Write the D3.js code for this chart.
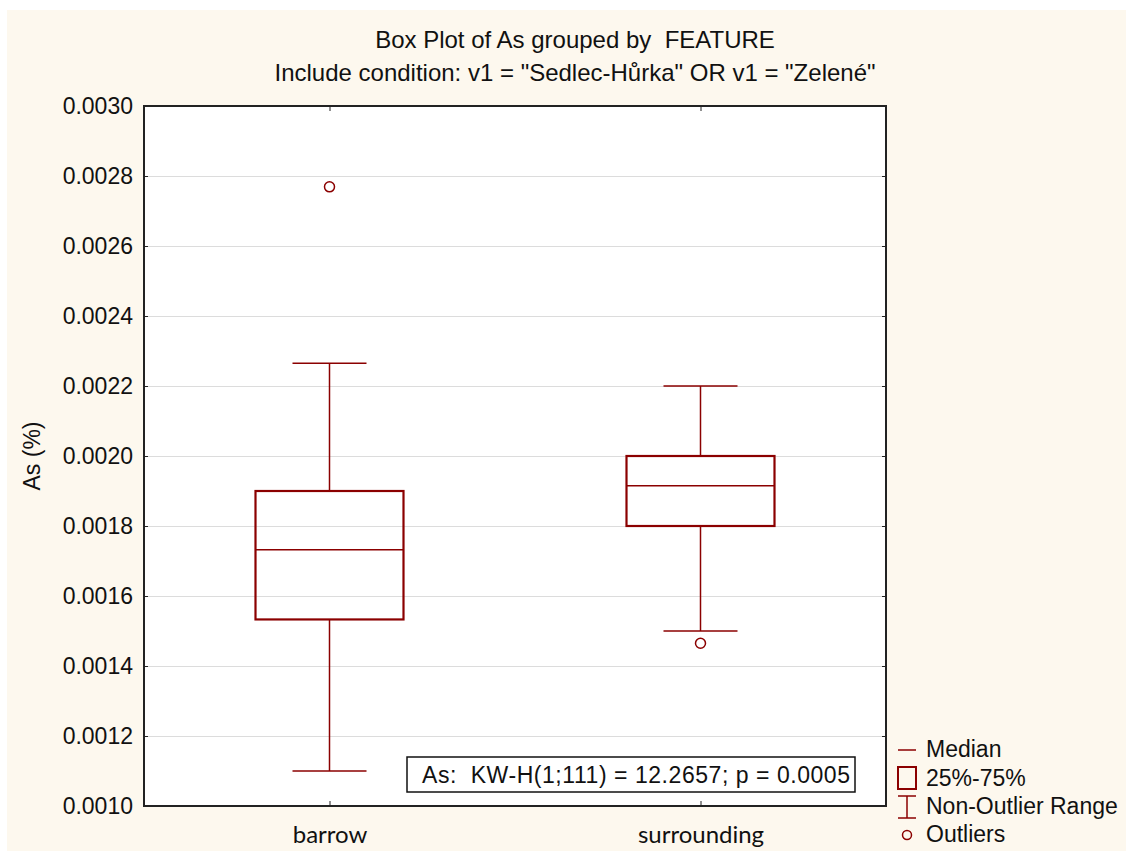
<!DOCTYPE html>
<html>
<head>
<meta charset="utf-8">
<script src="https://cdn.jsdelivr.net/npm/d3@7"></script>
<style>
  body { margin: 0; background: #fff; }
  text { font-family: "Liberation Sans", Arial, sans-serif; fill: #111; white-space: pre; }
</style>
</head>
<body>
<script>
// box plot summary values
const groups = ['barrow', 'surrounding'];
const whiskerLow = [0.0011, 0.0015];
const q1 = [0.001533, 0.0018];
const medians = [0.001732, 0.001915];
const q3 = [0.0019, 0.0020];
const whiskerHigh = [0.002265, 0.0022];
const outliers = [[0.002769], [0.001465]];
const yTicks = [0.0010, 0.0012, 0.0014, 0.0016, 0.0018, 0.0020, 0.0022, 0.0024, 0.0026, 0.0028, 0.0030];
const legendItems = ['Median', '25%-75%', 'Non-Outlier Range', 'Outliers'];

const W = 1126, H = 851;
const plotL = 144, plotR = 886, plotT = 106, plotB = 806;
const red = '#8b0000';

const data = groups.map((g, i) => ({
  name: g, lo: whiskerLow[i], q1: q1[i], med: medians[i], q3: q3[i], hi: whiskerHigh[i], out: outliers[i]
}));

const svg = d3.select('body').append('svg')
  .attr('width', W)
  .attr('height', H);

// cream page background
svg.append('rect')
  .attr('x', 7).attr('y', 10)
  .attr('width', W - 7).attr('height', H - 10)
  .attr('fill', '#fdf8ee');

svg.append('rect')
  .attr('x', plotL).attr('y', plotT)
  .attr('width', plotR - plotL).attr('height', plotB - plotT)
  .attr('fill', '#fff');

const y = d3.scaleLinear().domain([0.0010, 0.0030]).range([plotB, plotT]);
const x = d3.scalePoint().domain(groups).range([plotL, plotR]).padding(0.5);

// gridlines
svg.append('g')
  .attr('transform', `translate(${plotL},0)`)
  .call(d3.axisLeft(y).tickValues(yTicks.slice(1, -1)).tickSize(-(plotR - plotL)).tickFormat(''))
  .call(g => g.select('.domain').remove())
  .call(g => g.selectAll('line').attr('stroke', '#dcdcdc').attr('stroke-width', 1));

// titles
svg.append('text')
  .attr('x', 575).attr('y', 48)
  .attr('text-anchor', 'middle')
  .style('font-size', '24px')
  .text('Box Plot of As grouped by  FEATURE');

svg.append('text')
  .attr('x', 575).attr('y', 81)
  .attr('text-anchor', 'middle')
  .style('font-size', '24px')
  .text('Include condition: v1 = "Sedlec-Hůrka" OR v1 = "Zelené"');

// boxes
const box = svg.append('g').selectAll('g')
  .data(data)
  .enter()
  .append('g');

const boxW = 148, capW = 74;

box.append('line')
  .attr('x1', d => x(d.name)).attr('x2', d => x(d.name))
  .attr('y1', d => y(d.hi)).attr('y2', d => y(d.q3))
  .attr('stroke', red).attr('stroke-width', 1.5);

box.append('line')
  .attr('x1', d => x(d.name)).attr('x2', d => x(d.name))
  .attr('y1', d => y(d.q1)).attr('y2', d => y(d.lo))
  .attr('stroke', red).attr('stroke-width', 1.5);

box.append('line')
  .attr('x1', d => x(d.name) - capW / 2).attr('x2', d => x(d.name) + capW / 2)
  .attr('y1', d => y(d.hi)).attr('y2', d => y(d.hi))
  .attr('stroke', red).attr('stroke-width', 1.5);

box.append('line')
  .attr('x1', d => x(d.name) - capW / 2).attr('x2', d => x(d.name) + capW / 2)
  .attr('y1', d => y(d.lo)).attr('y2', d => y(d.lo))
  .attr('stroke', red).attr('stroke-width', 1.5);

box.append('rect')
  .attr('x', d => x(d.name) - boxW / 2)
  .attr('y', d => y(d.q3))
  .attr('width', boxW)
  .attr('height', d => y(d.q1) - y(d.q3))
  .attr('fill', 'none')
  .attr('stroke', red).attr('stroke-width', 2.2);

box.append('line')
  .attr('x1', d => x(d.name) - boxW / 2).attr('x2', d => x(d.name) + boxW / 2)
  .attr('y1', d => y(d.med)).attr('y2', d => y(d.med))
  .attr('stroke', red).attr('stroke-width', 1.5);

box.selectAll('circle')
  .data(d => d.out.map(v => ({ name: d.name, v: v })))
  .enter()
  .append('circle')
  .attr('cx', d => x(d.name))
  .attr('cy', d => y(d.v))
  .attr('r', 5)
  .attr('fill', 'none')
  .attr('stroke', red).attr('stroke-width', 1.5);

// stats box
const stats = svg.append('g');
stats.append('rect')
  .attr('x', 407).attr('y', 757)
  .attr('width', 448).attr('height', 35)
  .attr('fill', '#fff')
  .attr('stroke', '#111').attr('stroke-width', 1.5);
stats.append('text')
  .attr('x', 636).attr('y', 783)
  .attr('text-anchor', 'middle')
  .attr('textLength', 428)
  .style('font-size', '23px')
  .text('As:  KW-H(1;111) = 12.2657; p = 0.0005');

// axes, ticks pointing inward
svg.append('g')
  .attr('transform', `translate(${plotL},0)`)
  .call(d3.axisLeft(y).tickValues(yTicks).tickSize(-4).tickPadding(11).tickFormat(d3.format('.4f')))
  .call(g => g.select('.domain').remove())
  .call(g => g.selectAll('line').attr('stroke', '#222'))
  .call(g => g.selectAll('text').style('font-size', '23px').attr('fill', '#111')
    .style('font-family', '"Liberation Sans", Arial, sans-serif'));

svg.append('g')
  .attr('transform', `translate(${plotR},0)`)
  .call(d3.axisRight(y).tickValues(yTicks).tickSize(-4).tickFormat(''))
  .call(g => g.select('.domain').remove())
  .call(g => g.selectAll('line').attr('stroke', '#222'));

svg.append('g')
  .attr('transform', `translate(0,${plotB})`)
  .call(d3.axisBottom(x).tickSize(-5).tickPadding(20))
  .call(g => g.select('.domain').remove())
  .call(g => g.selectAll('line').attr('stroke', '#222'))
  .call(g => g.selectAll('text').style('font-size', '24px').attr('fill', '#111')
    .style('font-family', 'Lato, "Open Sans", sans-serif'));

svg.append('g')
  .attr('transform', `translate(0,${plotT})`)
  .call(d3.axisTop(x).tickSize(-5).tickFormat(''))
  .call(g => g.select('.domain').remove())
  .call(g => g.selectAll('line').attr('stroke', '#222'));

// plot frame
svg.append('rect')
  .attr('x', plotL).attr('y', plotT)
  .attr('width', plotR - plotL).attr('height', plotB - plotT)
  .attr('fill', 'none')
  .attr('stroke', '#222').attr('stroke-width', 2);

// y axis title
svg.append('text')
  .attr('transform', `translate(40,${(plotT + plotB) / 2}) rotate(-90)`)
  .attr('text-anchor', 'middle')
  .style('font-size', '23px')
  .text('As (%)');

// legend
const legend = svg.append('g').attr('transform', 'translate(898,0)');
const legY = [757, 786, 814, 842];

legend.append('line')
  .attr('x1', 0).attr('x2', 18).attr('y1', 750).attr('y2', 750)
  .attr('stroke', red).attr('stroke-width', 1.5);
legend.append('rect')
  .attr('x', 0).attr('y', 767).attr('width', 18).attr('height', 22)
  .attr('fill', 'none').attr('stroke', red).attr('stroke-width', 2);
legend.append('line')
  .attr('x1', 9).attr('x2', 9).attr('y1', 796).attr('y2', 818)
  .attr('stroke', red).attr('stroke-width', 1.5);
legend.append('line')
  .attr('x1', 0).attr('x2', 18).attr('y1', 796).attr('y2', 796)
  .attr('stroke', red).attr('stroke-width', 1.5);
legend.append('line')
  .attr('x1', 0).attr('x2', 18).attr('y1', 818).attr('y2', 818)
  .attr('stroke', red).attr('stroke-width', 1.5);
legend.append('circle')
  .attr('cx', 9).attr('cy', 835).attr('r', 4.5)
  .attr('fill', 'none').attr('stroke', red).attr('stroke-width', 1.5);

legend.selectAll('text.leg')
  .data(legendItems)
  .enter()
  .append('text')
  .attr('class', 'leg')
  .attr('x', 28)
  .attr('y', (d, i) => legY[i])
  .style('font-size', '23px')
  .text(d => d);
</script>
</body>
</html>
